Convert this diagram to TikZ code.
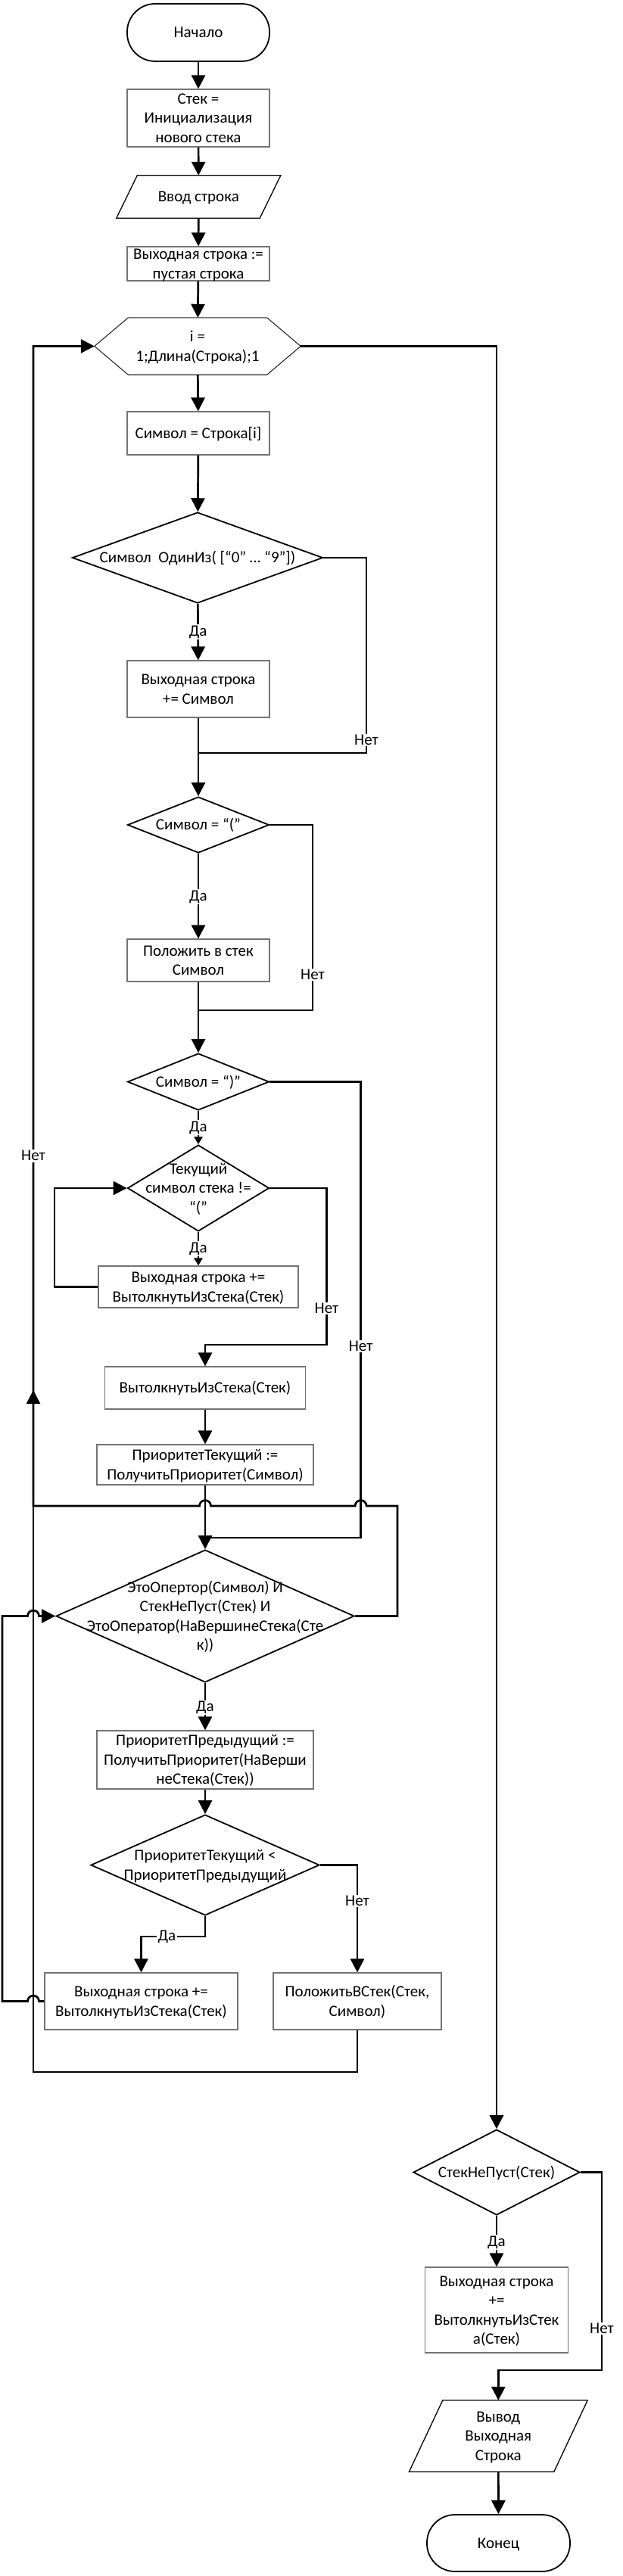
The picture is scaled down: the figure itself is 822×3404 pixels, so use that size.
\documentclass[tikz,border=0pt]{standalone}
\usepackage{fontspec}
\setmainfont{Carlito}
\usetikzlibrary{arrows.meta,shapes.geometric}
\newcommand{\boxtext}[1]{\smash{\makebox[0pt]{\raisebox{-7pt}{\begin{tabular}{@{}c@{}}#1\end{tabular}}}}}

\begin{document}
\begin{tikzpicture}[x=1pt, y=-1pt,
  font=\fontsize{21}{25.5}\selectfont,
  wire/.style={line width=2.7pt},
  flow/.style={line width=2.7pt, -{Triangle[width=18pt,length=18pt]}},
  flowsmall/.style={line width=2.7pt, -{Triangle[width=11pt,length=10pt]}},
  term/.style={draw, line width=1.8pt, rounded corners=37pt, inner sep=0pt},
  proc/.style={draw=black!55, line width=1.2pt, inner sep=0pt},
  dec/.style={diamond, draw, line width=1.8pt, inner sep=0pt},
  bare/.style={inner sep=0pt},
  io/.style={draw, line width=1.3pt},
  lbl/.style={fill=white, inner sep=1.5pt}]
%%%%%%%%%%%%%%%%%%%%%%%%%%%%%%%%%%%%%%%%%%% HELP LINES
%\draw[help lines] (0,0) grid[step=100] (822,3404);
\useasboundingbox (0,0) rectangle (822,3404);

%%%%%%%%%%%%%%%%%%%%%%%%%%%%%%%%%%%%%%%%%%% start and input
\node[term, minimum width=188, minimum height=76](start) at (262,43){\boxtext{Начало}};
\node[proc, minimum width=188, minimum height=76](init) at (262,156){\boxtext{Стек =\\Инициализация\\нового стека}};
\node[bare, minimum width=216.6, minimum height=56](input) at (262.3,260){\boxtext{Ввод строка}};
\draw[io] ([xshift=27.5pt]input.north west) -- (input.north east) -- ([xshift=-27.5pt]input.south east) -- (input.south west) -- cycle;
\node[proc, minimum width=188, minimum height=45](outinit) at (262,348.5){\boxtext{Выходная строка :=\\пустая строка}};

%%%%% loop head
\node[bare, minimum width=272, minimum height=75](loop) at (261,457.5){\boxtext{i =\\1;Длина(Строка);1}};
\draw[draw=black!85, line width=1.1pt] (loop.west) -- ([xshift=44.5pt]loop.north west) -- ([xshift=-44.5pt]loop.north east) -- (loop.east) -- ([xshift=-44.5pt]loop.south east) -- ([xshift=44.5pt]loop.south west) -- cycle;
\node[proc, minimum width=188, minimum height=57](sym) at (262,572.5){\boxtext{Символ = Строка[i]}};

%%%%% digit, open and close bracket
\node[dec, minimum width=331, minimum height=120](isdigit) at (261,737){\boxtext{Символ\ \ ОдинИз( [“0” … “9”])}};
\node[proc, minimum width=188, minimum height=75](adddigit) at (262,910.5){\boxtext{Выходная строка\\+= Символ}};
\node[dec, minimum width=187, minimum height=74](isopen) at (262,1090){\boxtext{Символ = “(”}};
\node[proc, minimum width=188, minimum height=56](pushopen) at (262,1269){\boxtext{Положить в стек\\Символ}};
\node[dec, minimum width=187, minimum height=75](isclose) at (262,1429.5){\boxtext{Символ = “)”}};
\node[dec, minimum width=187, minimum height=114](notopen) at (262,1570){\boxtext{Текущий\\символ стека !=\\“(”}};
\node[proc, minimum width=264, minimum height=55](popadd) at (262,1700.5){\boxtext{Выходная строка +=\\ВытолкнутьИзСтека(Стек)}};
\node[proc, minimum width=265, minimum height=56](popstack) at (271,1834){\boxtext{ВытолкнутьИзСтека(Стек)}};

%%%%% operators
\node[proc, minimum width=286, minimum height=53](prio) at (271,1935.5){\boxtext{ПриоритетТекущий :=\\ПолучитьПриоритет(Символ)}};
\node[dec, minimum width=394, minimum height=175](isop) at (271,2135.5){\boxtext{ЭтоОпертор(Символ) И\\СтекНеПуст(Стек) И\\ЭтоОператор(НаВершинеСтека(Сте\\к))}};
\node[proc, minimum width=286, minimum height=77](prioprev) at (271,2325.5){\boxtext{ПриоритетПредыдущий :=\\ПолучитьПриоритет(НаВерши\\неСтека(Стек))}};
\node[dec, minimum width=302, minimum height=133](less) at (271,2464.5){\boxtext{ПриоритетТекущий <\\ПриоритетПредыдущий}};
\node[proc, minimum width=255, minimum height=75](popout) at (186.5,2644.5){\boxtext{Выходная строка +=\\ВытолкнутьИзСтека(Стек)}};
\node[proc, minimum width=222, minimum height=75](push) at (472,2644.5){\boxtext{ПоложитьВСтек(Стек,\\Символ)}};

%%%%% rest of stack and output
\node[dec, minimum width=220, minimum height=113](notempty) at (656,2870.5){\boxtext{СтекНеПуст(Стек)}};
\node[proc, minimum width=189, minimum height=113](popall) at (656,3052.5){\boxtext{Выходная строка\\+=\\ВытолкнутьИзСтек\\а(Стек)}};
\node[bare, minimum width=235.3, minimum height=94](output) at (658.3,3219){\boxtext{Вывод\\Выходная\\Строка}};
\draw[io] ([xshift=44.3pt]output.north west) -- (output.north east) -- ([xshift=-44.3pt]output.south east) -- (output.south west) -- cycle;
\node[term, minimum width=189, minimum height=75](stop) at (658.5,3360.5){\boxtext{Конец}};

\coordinate (j1) at (262,995);
\coordinate (j2) at (262,1335);
\coordinate (j3) at (271,2032);
\coordinate (up) at (44,1837);

%%%%%%%%%%%%%%%%%%%%%%%%%%%%%%%%%%%%%%%%%%% connectors
\draw[flow] (start) -- (init);
\draw[flow] (init) -- (input);
\draw[flow] (input) -- (outinit);
\draw[flow] (outinit) -- (loop);
\draw[flow] (loop) -- (sym);
\draw[flow] (sym) -- (isdigit);
\draw[flow] (isdigit) -- node[lbl, pos=0.5]{Да}(adddigit);
\draw[wire] (isdigit.east) -| node[lbl, pos=0.967]{Нет}(484,995) -- (j1);
\draw[flow] (adddigit) -- (isopen);
\draw[flow] (isopen) -- node[lbl, pos=0.51]{Да}(pushopen);
\draw[wire] (isopen.east) -| node[lbl, pos=0.904]{Нет}(413,1335) -- (j2);
\draw[flow] (pushopen) -- (isclose);
\draw[flowsmall] (isclose) -- node[lbl, pos=0.5]{Да}(notopen);
\draw[wire] (isclose.east) -| node[lbl, pos=0.79]{Нет}(476.6,2032) -- (j3);
\draw[flowsmall] (notopen) -- node[lbl, pos=0.5]{Да}(popadd);
\draw[flow] (popadd.west) -- (72,1700.5) |- (notopen.west);
\draw[flow] (notopen.east) -| node[lbl, pos=0.884]{Нет}(431.5,1777) -| (popstack);
\draw[flow] (popstack) -- (prio);
\draw[flow] (prio) -- (isop);
\draw[flow] (isop.east) -| (525,1990) -- (484.1,1990) arc[start angle=0, end angle=180, radius=7.5pt]
  -- (278.5,1990) arc[start angle=0, end angle=180, radius=7.5pt] -- (44,1990) |- node[lbl, pos=0.151]{Нет}(loop.west);
\draw[flow] (isop) -- node[lbl, pos=0.52]{Да}(prioprev);
\draw[flow] (prioprev) -- (less);
\draw[flow] (less) -- (271,2559) -| node[lbl, pos=0.3]{Да}(popout);
\draw[flow] (less.east) -| node[lbl, pos=0.667]{Нет}(push);
\draw[flow] (popout.west) -- (51.5,2644.5) arc[start angle=0, end angle=180, radius=7.5pt]
  -- (3,2644.5) |- (36.5,2135.5) arc[start angle=180, end angle=0, radius=7.5pt] -- (isop.west);
\draw[flow] (push) |- (44,2738) -- (up);
\draw[flow] (loop.east) -| (notempty);
\draw[flow] (notempty) -- node[lbl, pos=0.52]{Да}(popall);
\draw[flow] (notempty.east) -| node[lbl, pos=0.895]{Нет}(795,3132) -| (output);
\draw[flow] (output) -- (stop);
\end{tikzpicture}
\end{document}
